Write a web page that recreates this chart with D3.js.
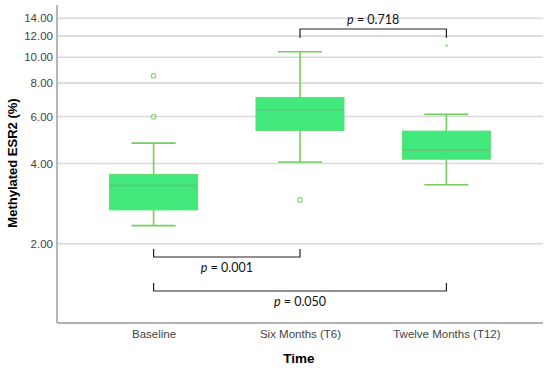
<!DOCTYPE html>
<html>
<head>
<meta charset="utf-8">
<script src="https://cdn.jsdelivr.net/npm/d3@7"></script>
<style>
  body { margin: 0; background: #fff; }
  svg { display: block; }
</style>
</head>
<body>
<svg id="chart" width="550" height="371"></svg>
<script>
// data
var groups = ['Baseline', 'Six Months (T6)', 'Twelve Months (T12)'];
var lowWhisker = [2.34, 4.05, 3.33];
var q1 = [2.68, 5.32, 4.15];
var median = [3.31, 6.36, 4.50];
var q3 = [3.64, 7.07, 5.29];
var highWhisker = [4.77, 10.49, 6.11];
var outliers = [[8.53, 5.99], [2.92], []];
var extremes = [[], [], [11.02]];
var yTicks = [2, 4, 6, 8, 10, 12, 14];
var brackets = [
  { from: 1, to: 2, level: 29, side: 'top', label: '0.718' },
  { from: 0, to: 1, level: 257, side: 'bottom', label: '0.001' },
  { from: 0, to: 2, level: 291, side: 'bottom', label: '0.050' }
];

var svg = d3.select('#chart');
var plotLeft = 57, plotRight = 543, plotTop = 5, plotBottom = 323;

var x = d3.scalePoint()
    .domain(groups)
    .range([plotLeft, plotRight])
    .padding(0.66);

var y = d3.scaleLog()
    .domain([1.01, 15.7])
    .range([plotBottom, plotTop]);

var boxW = 88, capW = 44;
var fill = '#41e87c', stroke = '#72cf5e';
var arial = 'Liberation Sans, Arial, sans-serif';

// grid
svg.append('g')
    .selectAll('line')
    .data(yTicks)
    .enter()
    .append('line')
    .attr('x1', plotLeft)
    .attr('x2', plotRight)
    .attr('y1', function (d) { return y(d); })
    .attr('y2', function (d) { return y(d); })
    .attr('stroke', '#d9d9d9')
    .attr('stroke-width', 1.6);

// axes
var yAxis = svg.append('g')
    .attr('transform', 'translate(' + plotLeft + ',0)')
    .call(d3.axisLeft(y).tickValues(yTicks).tickSize(0).tickPadding(4)
        .tickFormat(function (d) { return d3.format('.2f')(d); }));
yAxis.select('.domain')
    .attr('d', 'M0,' + plotBottom + 'V' + plotTop)
    .attr('stroke', '#999').attr('stroke-width', 1.4);
yAxis.selectAll('text')
    .attr('font-family', arial)
    .attr('font-size', 11.5)
    .attr('fill', '#444');

var xAxis = svg.append('g')
    .attr('transform', 'translate(0,' + plotBottom + ')')
    .call(d3.axisBottom(x).tickSize(0).tickPadding(7));
xAxis.select('.domain')
    .attr('d', 'M' + plotLeft + ',0H' + plotRight)
    .attr('stroke', '#999').attr('stroke-width', 1.4);
xAxis.selectAll('text')
    .attr('font-family', arial)
    .attr('font-size', 11.5)
    .attr('fill', '#444');

// axis titles
svg.append('text')
    .attr('x', 299)
    .attr('y', 363)
    .attr('text-anchor', 'middle')
    .attr('font-family', arial)
    .attr('font-weight', 'bold')
    .attr('font-size', 13.5)
    .text('Time');

svg.append('text')
    .attr('transform', 'translate(17,163) rotate(-90)')
    .attr('text-anchor', 'middle')
    .attr('font-family', arial)
    .attr('font-weight', 'bold')
    .attr('font-size', 13)
    .text('Methylated ESR2 (%)');

// boxes
var box = svg.append('g')
    .selectAll('g')
    .data(groups)
    .enter()
    .append('g');

box.append('line')
    .attr('x1', function (d) { return x(d); })
    .attr('x2', function (d) { return x(d); })
    .attr('y1', function (d, i) { return y(highWhisker[i]); })
    .attr('y2', function (d, i) { return y(lowWhisker[i]); })
    .attr('stroke', stroke).attr('stroke-width', 1.6);

[highWhisker, lowWhisker].forEach(function (arr) {
  box.append('line')
      .attr('x1', function (d) { return x(d) - capW / 2; })
      .attr('x2', function (d) { return x(d) + capW / 2; })
      .attr('y1', function (d, i) { return y(arr[i]); })
      .attr('y2', function (d, i) { return y(arr[i]); })
      .attr('stroke', stroke).attr('stroke-width', 1.6);
});

box.append('rect')
    .attr('x', function (d) { return x(d) - boxW / 2; })
    .attr('width', boxW)
    .attr('y', function (d, i) { return y(q3[i]); })
    .attr('height', function (d, i) { return y(q1[i]) - y(q3[i]); })
    .attr('fill', fill)
    .attr('stroke', '#5fdc72')
    .attr('stroke-width', 1);

box.append('line')
    .attr('x1', function (d) { return x(d) - boxW / 2; })
    .attr('x2', function (d) { return x(d) + boxW / 2; })
    .attr('y1', function (d, i) { return y(median[i]); })
    .attr('y2', function (d, i) { return y(median[i]); })
    .attr('stroke', '#68c07a').attr('stroke-width', 1.6);

// outliers
box.each(function (d, i) {
  d3.select(this).selectAll('circle')
      .data(outliers[i])
      .enter()
      .append('circle')
      .attr('cx', x(d))
      .attr('cy', function (v) { return y(v); })
      .attr('r', 2.3)
      .attr('fill', 'none')
      .attr('stroke', '#8ad56e')
      .attr('stroke-width', 1.1);
  d3.select(this).selectAll('text.ext')
      .data(extremes[i])
      .enter()
      .append('text')
      .attr('class', 'ext')
      .attr('x', x(d))
      .attr('y', function (v) { return y(v) + 4; })
      .attr('text-anchor', 'middle')
      .attr('font-family', arial)
      .attr('font-size', 9)
      .attr('fill', '#7ccf5e')
      .text('*');
});

// significance brackets
var br = svg.append('g')
    .selectAll('g')
    .data(brackets)
    .enter()
    .append('g');

br.append('path')
    .attr('d', function (d) {
      var x1 = x(groups[d.from]), x2 = x(groups[d.to]);
      var t = d.side === 'top' ? 9 : -8;
      return 'M' + x1 + ',' + (d.level + t) + 'V' + d.level + 'H' + x2 + 'V' + (d.level + t);
    })
    .attr('fill', 'none')
    .attr('stroke', '#222')
    .attr('stroke-width', 1.2);

var lbl = br.append('text')
    .attr('x', function (d) {
      var x1 = x(groups[d.from]), x2 = x(groups[d.to]);
      return (x1 + x2) / 2;
    })
    .attr('y', function (d) { return d.side === 'top' ? d.level - 5 : d.level + 15; })
    .attr('text-anchor', 'middle')
    .attr('font-family', 'Lato, Open Sans, sans-serif')
    .attr('font-size', 12.5)
    .attr('fill', '#111');
lbl.append('tspan').attr('font-style', 'italic').text('p');
lbl.append('tspan').text(function (d) { return ' = ' + d.label; });
</script>
</body>
</html>
